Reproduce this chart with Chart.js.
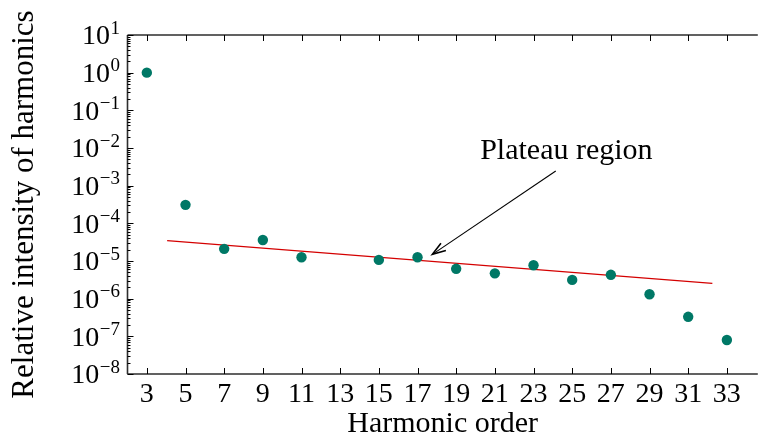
<!DOCTYPE html>
<html>
<head>
<meta charset="utf-8">
<script src="https://cdn.jsdelivr.net/npm/chart.js@4/dist/chart.umd.min.js"></script>
<style>
  html, body { margin: 0; padding: 0; background: #fff; overflow: hidden; }
  #wrap { width: 763px; height: 437px; }
</style>
</head>
<body>
<div id="wrap"><canvas id="chart" width="763" height="437"></canvas></div>
<script>
// Measured relative intensity for each odd harmonic (no value at order 13)
const harmonicOrder = [3, 5, 7, 9, 11, 15, 17, 19, 21, 23, 25, 27, 29, 31, 33];
const relativeIntensity = [1.0, 3.1e-4, 2.1e-5, 3.6e-5, 1.26e-5, 1.07e-5, 1.26e-5,
                           6.2e-6, 4.7e-6, 7.7e-6, 3.15e-6, 4.3e-6, 1.31e-6, 3.3e-7, 8.0e-8];

// Straight-line fit through the plateau (end points)
const plateauFitOrder = [4.05, 32.25];
const plateauFitIntensity = [3.46e-5, 2.56e-6];

// Axis ticks
const xTickValues = [3, 5, 7, 9, 11, 13, 15, 17, 19, 21, 23, 25, 27, 29, 31, 33];
const yTickExponents = [-8, -7, -6, -5, -4, -3, -2, -1, 0, 1];

// Annotation (data coordinates)
const annotationText = 'Plateau region';
const annotationTextAt = [24.7, 5.0e-3];
const arrowFrom = [24.15, 2.45e-3];
const arrowTo = [17.77, 1.5e-5];

const SERIF = '"Liberation Serif", "DejaVu Serif", serif';
const pow10 = e => Number('1e' + e);

// Draws the axis frame, inward ticks, power-of-ten labels and the arrow note
const framePlugin = {
  id: 'frameAndNotes',
  afterDraw(chart) {
    const { ctx, chartArea: a, scales: { x, y } } = chart;
    ctx.save();

    // spines: left, bottom, top
    ctx.strokeStyle = '#2e2e2e';
    ctx.lineWidth = 1.6;
    ctx.beginPath();
    ctx.moveTo(a.left, a.top); ctx.lineTo(a.left, a.bottom);
    ctx.moveTo(a.left, a.bottom); ctx.lineTo(a.right, a.bottom);
    ctx.moveTo(a.left, a.top); ctx.lineTo(a.right, a.top);
    ctx.stroke();

    // ticks pointing into the plot
    ctx.strokeStyle = '#000';
    ctx.lineWidth = 1;
    ctx.beginPath();
    xTickValues.forEach(v => {
      const px = Math.round(x.getPixelForValue(v)) + 0.5;
      ctx.moveTo(px, a.bottom); ctx.lineTo(px, a.bottom - 6);
      ctx.moveTo(px, a.top); ctx.lineTo(px, a.top + 6);
    });
    yTickExponents.forEach(e => {
      const py = Math.round(y.getPixelForValue(pow10(e))) + 0.5;
      ctx.moveTo(a.left, py); ctx.lineTo(a.left + 6, py);
      if (e < yTickExponents[yTickExponents.length - 1]) {
        for (let k = 2; k <= 9; k++) {
          const pm = Math.round(y.getPixelForValue(k * pow10(e))) + 0.5;
          ctx.moveTo(a.left, pm); ctx.lineTo(a.left + 3, pm);
        }
      }
    });
    ctx.stroke();

    // y labels: 10 with a raised exponent
    ctx.fillStyle = '#000';
    ctx.textAlign = 'right';
    ctx.textBaseline = 'alphabetic';
    const labelRight = a.left - 7.5;
    yTickExponents.forEach(e => {
      const py = y.getPixelForValue(pow10(e));
      const expText = e < 0 ? '\u2212' + (-e) : String(e);
      ctx.font = '19px ' + SERIF;
      const w = ctx.measureText(expText).width;
      ctx.fillText(expText, labelRight, py - 1.5);
      ctx.font = '28px ' + SERIF;
      ctx.fillText('10', labelRight - w - 0.5, py + 9.3);
    });

    // annotation text and arrow
    ctx.font = '30px ' + SERIF;
    ctx.textAlign = 'center';
    ctx.fillText(annotationText, x.getPixelForValue(annotationTextAt[0]), y.getPixelForValue(annotationTextAt[1]));

    const x0 = x.getPixelForValue(arrowFrom[0]), y0 = y.getPixelForValue(arrowFrom[1]);
    const x1 = x.getPixelForValue(arrowTo[0]), y1 = y.getPixelForValue(arrowTo[1]);
    ctx.strokeStyle = '#000';
    ctx.lineWidth = 1.1;
    ctx.beginPath();
    ctx.moveTo(x0, y0); ctx.lineTo(x1, y1);
    ctx.stroke();
    const ang = Math.atan2(y1 - y0, x1 - x0);
    const hl = 14, spread = 0.32;
    ctx.lineWidth = 1.6;
    ctx.beginPath();
    ctx.moveTo(x1 - hl * Math.cos(ang - spread), y1 - hl * Math.sin(ang - spread));
    ctx.lineTo(x1, y1);
    ctx.lineTo(x1 - hl * Math.cos(ang + spread), y1 - hl * Math.sin(ang + spread));
    ctx.stroke();

    ctx.restore();
  }
};

new Chart(document.getElementById('chart'), {
  type: 'scatter',
  data: {
    datasets: [
      {
        type: 'line',
        data: plateauFitOrder.map((v, i) => ({ x: v, y: plateauFitIntensity[i] })),
        borderColor: '#d40000',
        borderWidth: 1.2,
        pointRadius: 0,
        fill: false,
        tension: 0,
        order: 2
      },
      {
        type: 'scatter',
        data: harmonicOrder.map((v, i) => ({ x: v, y: relativeIntensity[i] })),
        backgroundColor: '#007866',
        borderColor: '#007866',
        borderWidth: 0,
        pointRadius: 5.2,
        order: 1
      }
    ]
  },
  options: {
    responsive: false,
    animation: false,
    layout: { padding: { top: 35, right: 0, bottom: 0, left: 0 } },
    plugins: { legend: { display: false }, tooltip: { enabled: false } },
    scales: {
      x: {
        type: 'linear',
        min: 2,
        max: 34.6,
        grid: { display: false, drawTicks: false },
        border: { display: false },
        ticks: {
          autoSkip: false,
          maxRotation: 0,
          padding: 4,
          color: '#000',
          font: { family: SERIF, size: 28 },
          callback: v => String(v)
        },
        afterBuildTicks: s => { s.ticks = xTickValues.map(v => ({ value: v })); },
        afterFit: s => { s.height = 63; },
        title: {
          display: true,
          text: 'Harmonic order',
          color: '#000',
          font: { family: SERIF, size: 30 },
          padding: { top: 0, bottom: -5 }
        }
      },
      y: {
        type: 'logarithmic',
        min: 1e-8,
        max: 10,
        grid: { display: false, drawTicks: false },
        border: { display: false },
        ticks: { display: false },
        afterBuildTicks: s => { s.ticks = yTickExponents.map(e => ({ value: pow10(e) })); },
        afterFit: s => { s.width = 127.5; },
        title: {
          display: true,
          text: 'Relative intensity of harmonics',
          color: '#000',
          font: { family: SERIF, size: 31 },
          padding: { top: 6, bottom: 0 }
        }
      }
    }
  },
  plugins: [framePlugin]
});
</script>
</body>
</html>
